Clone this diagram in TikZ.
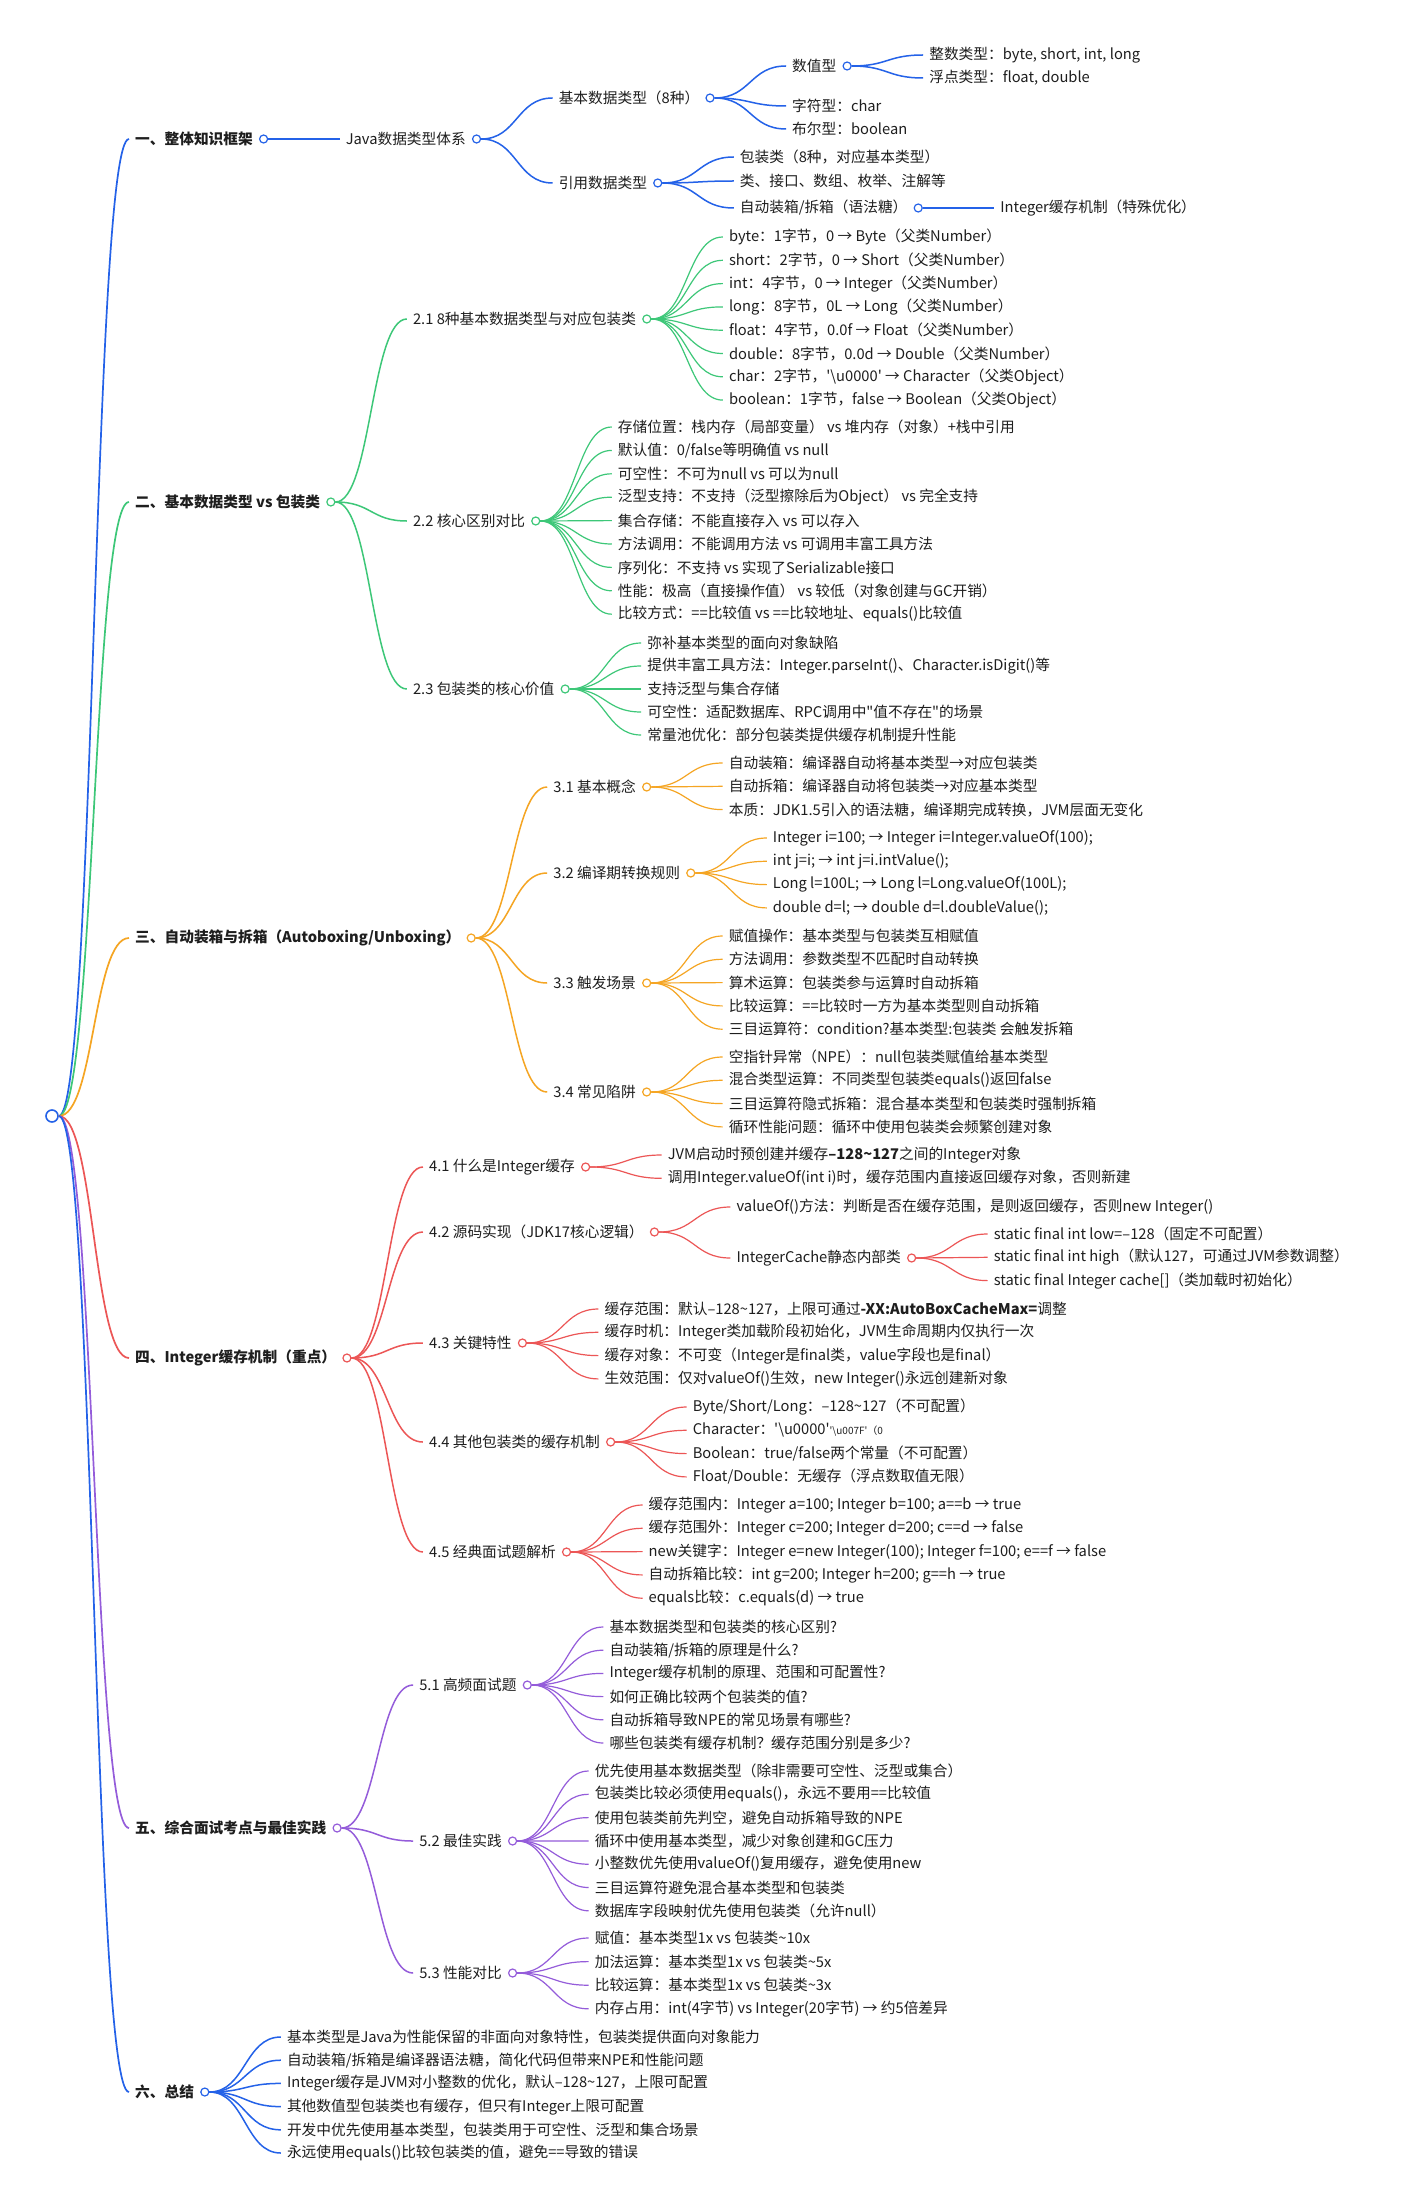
\documentclass[tikz,border=0pt]{standalone}
\usepackage{fontspec}
\setmainfont{Noto Sans CJK SC}
\usetikzlibrary{positioning}
\definecolor{mmblue}{RGB}{36,98,232}
\definecolor{mmgreen}{RGB}{61,199,120}
\definecolor{mmorange}{RGB}{245,165,35}
\definecolor{mmred}{RGB}{236,86,86}
\definecolor{mmpurple}{RGB}{148,92,218}
\definecolor{ink}{RGB}{30,30,30}

\begin{document}
\begin{tikzpicture}[x=1pt, y=-1pt,
    hd/.style={anchor=west, inner xsep=6pt, inner ysep=2pt, text=ink, font=\fontsize{14.7}{17}\selectfont\bfseries},
    sub/.style={anchor=west, inner xsep=6pt, inner ysep=2pt, text=ink, font=\fontsize{14.7}{17}\selectfont},
    knob/.style={circle, draw, fill=white, inner sep=0pt, minimum size=8pt, line width=1.2pt, right=0pt of #1},
    br1/.style={line width=1.7pt},
    br2/.style={line width=1.5pt},
    br3/.style={line width=1.2pt}]

    \fill[white] (0,0) rectangle (1400,2207);
    \useasboundingbox (0,0) rectangle (1400,2207);

    % Root
    \node[circle, draw=mmblue, fill=white, line width=1.6pt, minimum size=12pt, inner sep=0pt] (root) at (52,1116) {};

    % Main branches
    \node[hd] (h1) at (129,139) {一、整体知识框架};
    \node[knob=h1, draw=mmblue] (h1k) {};
    \node[hd] (h2) at (129,502) {二、基本数据类型 vs 包装类};
    \node[knob=h2, draw=mmgreen] (h2k) {};
    \node[hd] (h3) at (129,938) {三、自动装箱与拆箱（Autoboxing/Unboxing）};
    \node[knob=h3, draw=mmorange] (h3k) {};
    \node[hd] (h4) at (129,1358) {四、Integer缓存机制（重点）};
    \node[knob=h4, draw=mmred] (h4k) {};
    \node[hd] (h5) at (129,1828) {五、综合面试考点与最佳实践};
    \node[knob=h5, draw=mmpurple] (h5k) {};
    \node[hd] (h6) at (129,2092) {六、总结};
    \node[knob=h6, draw=mmblue] (h6k) {};

    \foreach \b/\c in {h1/mmblue, h2/mmgreen, h3/mmorange, h4/mmred, h5/mmpurple, h6/mmblue}
        \draw[br1, \c] (root.east) .. controls +(36,0) and +(-36,0) .. (\b.west);

    % 1. Overview
    \coordinate (x1) at ([xshift=76pt]h1k.center);
    \node[sub] (java) at (x1 |- 0,139) {Java数据类型体系};
    \node[knob=java, draw=mmblue] (javak) {};
    \coordinate (x11) at ([xshift=76pt]javak.center);
    \node[sub] (basic) at (x11 |- 0,98) {基本数据类型（8种）};
    \node[knob=basic, draw=mmblue] (basick) {};
    \node[sub] (ref) at (x11 |- 0,183) {引用数据类型};
    \node[knob=ref, draw=mmblue] (refk) {};
    \coordinate (x111) at ([xshift=76pt]basick.center);
    \node[sub] (num) at (x111 |- 0,66) {数值型};
    \node[knob=num, draw=mmblue] (numk) {};
    \node[sub] (chr) at (x111 |- 0,106) {字符型：char};
    \node[sub] (bool) at (x111 |- 0,129) {布尔型：boolean};
    \coordinate (x1111) at ([xshift=76pt]numk.center);
    \node[sub] (intg) at (x1111 |- 0,55) {整数类型：byte, short, int, long};
    \node[sub] (flt) at (x1111 |- 0,78) {浮点类型：float, double};
    \coordinate (x112) at ([xshift=76pt]refk.center);
    \node[sub] (wrap) at (x112 |- 0,157) {包装类（8种，对应基本类型）};
    \node[sub] (cls) at (x112 |- 0,181) {类、接口、数组、枚举、注解等};
    \node[sub] (box) at (x112 |- 0,208) {自动装箱/拆箱（语法糖）};
    \node[knob=box, draw=mmblue] (boxk) {};
    \coordinate (x1121) at ([xshift=76pt]boxk.center);
    \node[sub] (icache) at (x1121 |- 0,208) {Integer缓存机制（特殊优化）};

    \foreach \a/\b in {h1k/java, javak/basic, javak/ref, basick/num, basick/chr, basick/bool,
                       numk/intg, numk/flt, refk/wrap, refk/cls, refk/box, boxk/icache}
        \draw[br2, mmblue] (\a.east) .. controls +(36,0) and +(-36,0) .. (\b.west);

    % 2. Primitive vs wrapper
    \coordinate (x2) at ([xshift=76pt]h2k.center);
    \node[sub] (s21) at (x2 |- 0,319) {2.1 8种基本数据类型与对应包装类};
    \node[knob=s21, draw=mmgreen] (s21k) {};
    \node[sub] (s22) at (x2 |- 0,521) {2.2 核心区别对比};
    \node[knob=s22, draw=mmgreen] (s22k) {};
    \node[sub] (s23) at (x2 |- 0,689) {2.3 包装类的核心价值};
    \node[knob=s23, draw=mmgreen] (s23k) {};
    \foreach \b in {s21,s22,s23}
        \draw[br2, mmgreen] (h2k.east) .. controls +(36,0) and +(-36,0) .. (\b.west);

    \coordinate (x21) at ([xshift=76pt]s21k.center);
    \foreach \txt [count=\i] in {{byte：1字节，0 → Byte（父类Number）},
        {short：2字节，0 → Short（父类Number）},
        {int：4字节，0 → Integer（父类Number）},
        {long：8字节，0L → Long（父类Number）},
        {float：4字节，0.0f → Float（父类Number）},
        {double：8字节，0.0d → Double（父类Number）},
        {char：2字节，\textquotesingle\textbackslash u0000\textquotesingle{} → Character（父类Object）},
        {boolean：1字节，false → Boolean（父类Object）}} {
        \pgfmathsetmacro\yy{237+23.3*(\i-1)}
        \node[sub] (s21-\i) at (x21 |- 0,\yy) {\txt};
        \draw[br3, mmgreen] (s21k.east) .. controls +(36,0) and +(-36,0) .. (s21-\i.west);
    }

    \coordinate (x22) at ([xshift=76pt]s22k.center);
    \foreach \txt [count=\i] in {{存储位置：栈内存（局部变量） vs 堆内存（对象）+栈中引用},
        {默认值：0/false等明确值 vs null},
        {可空性：不可为null vs 可以为null},
        {泛型支持：不支持（泛型擦除后为Object） vs 完全支持},
        {集合存储：不能直接存入 vs 可以存入},
        {方法调用：不能调用方法 vs 可调用丰富工具方法},
        {序列化：不支持 vs 实现了Serializable接口},
        {性能：极高（直接操作值） vs 较低（对象创建与GC开销）},
        {比较方式：==比较值 vs ==比较地址、equals()比较值}} {
        \pgfmathsetmacro\yy{427+23.4*(\i-1)}
        \node[sub] (s22-\i) at (x22 |- 0,\yy) {\txt};
        \draw[br3, mmgreen] (s22k.east) .. controls +(36,0) and +(-36,0) .. (s22-\i.west);
    }

    \coordinate (x23) at ([xshift=76pt]s23k.center);
    \foreach \txt [count=\i] in {{弥补基本类型的面向对象缺陷},
        {提供丰富工具方法：Integer.parseInt()、Character.isDigit()等},
        {支持泛型与集合存储},
        {可空性：适配数据库、RPC调用中\textquotedbl 值不存在\textquotedbl 的场景},
        {常量池优化：部分包装类提供缓存机制提升性能}} {
        \pgfmathsetmacro\yy{643+23*(\i-1)}
        \node[sub] (s23-\i) at (x23 |- 0,\yy) {\txt};
        \draw[br3, mmgreen] (s23k.east) .. controls +(36,0) and +(-36,0) .. (s23-\i.west);
    }

    % 3. Autoboxing / unboxing
    \coordinate (x3) at ([xshift=76pt]h3k.center);
    \node[sub] (s31) at (x3 |- 0,787) {3.1 基本概念};
    \node[knob=s31, draw=mmorange] (s31k) {};
    \node[sub] (s32) at (x3 |- 0,873) {3.2 编译期转换规则};
    \node[knob=s32, draw=mmorange] (s32k) {};
    \node[sub] (s33) at (x3 |- 0,983) {3.3 触发场景};
    \node[knob=s33, draw=mmorange] (s33k) {};
    \node[sub] (s34) at (x3 |- 0,1092) {3.4 常见陷阱};
    \node[knob=s34, draw=mmorange] (s34k) {};
    \foreach \b in {s31,s32,s33,s34}
        \draw[br2, mmorange] (h3k.east) .. controls +(36,0) and +(-36,0) .. (\b.west);

    \coordinate (x31) at ([xshift=76pt]s31k.center);
    \foreach \txt [count=\i] in {{自动装箱：编译器自动将基本类型→对应包装类},
        {自动拆箱：编译器自动将包装类→对应基本类型},
        {本质：JDK1.5引入的语法糖，编译期完成转换，JVM层面无变化}} {
        \pgfmathsetmacro\yy{763+23.3*(\i-1)}
        \node[sub] (s31-\i) at (x31 |- 0,\yy) {\txt};
        \draw[br3, mmorange] (s31k.east) .. controls +(36,0) and +(-36,0) .. (s31-\i.west);
    }

    \coordinate (x32) at ([xshift=76pt]s32k.center);
    \foreach \txt [count=\i] in {{Integer i=100; → Integer i=Integer.valueOf(100);},
        {int j=i; → int j=i.intValue();},
        {Long l=100L; → Long l=Long.valueOf(100L);},
        {double d=l; → double d=l.doubleValue();}} {
        \pgfmathsetmacro\yy{838+23.3*(\i-1)}
        \node[sub] (s32-\i) at (x32 |- 0,\yy) {\txt};
        \draw[br3, mmorange] (s32k.east) .. controls +(36,0) and +(-36,0) .. (s32-\i.west);
    }

    \coordinate (x33) at ([xshift=76pt]s33k.center);
    \foreach \txt [count=\i] in {{赋值操作：基本类型与包装类互相赋值},
        {方法调用：参数类型不匹配时自动转换},
        {算术运算：包装类参与运算时自动拆箱},
        {比较运算：==比较时一方为基本类型则自动拆箱},
        {三目运算符：condition?基本类型:包装类 会触发拆箱}} {
        \pgfmathsetmacro\yy{936+23.3*(\i-1)}
        \node[sub] (s33-\i) at (x33 |- 0,\yy) {\txt};
        \draw[br3, mmorange] (s33k.east) .. controls +(36,0) and +(-36,0) .. (s33-\i.west);
    }

    \coordinate (x34) at ([xshift=76pt]s34k.center);
    \foreach \txt [count=\i] in {{空指针异常（NPE）：null包装类赋值给基本类型},
        {混合类型运算：不同类型包装类equals()返回false},
        {三目运算符隐式拆箱：混合基本类型和包装类时强制拆箱},
        {循环性能问题：循环中使用包装类会频繁创建对象}} {
        \pgfmathsetmacro\yy{1057+23.3*(\i-1)}
        \node[sub] (s34-\i) at (x34 |- 0,\yy) {\txt};
        \draw[br3, mmorange] (s34k.east) .. controls +(36,0) and +(-36,0) .. (s34-\i.west);
    }

    % 4. Integer cache
    \coordinate (x4) at ([xshift=76pt]h4k.center);
    \node[sub] (s41) at (x4 |- 0,1167) {4.1 什么是Integer缓存};
    \node[knob=s41, draw=mmred] (s41k) {};
    \node[sub] (s42) at (x4 |- 0,1232) {4.2 源码实现（JDK17核心逻辑）};
    \node[knob=s42, draw=mmred] (s42k) {};
    \node[sub] (s43) at (x4 |- 0,1343) {4.3 关键特性};
    \node[knob=s43, draw=mmred] (s43k) {};
    \node[sub] (s44) at (x4 |- 0,1442) {4.4 其他包装类的缓存机制};
    \node[knob=s44, draw=mmred] (s44k) {};
    \node[sub] (s45) at (x4 |- 0,1552) {4.5 经典面试题解析};
    \node[knob=s45, draw=mmred] (s45k) {};
    \foreach \b in {s41,s42,s43,s44,s45}
        \draw[br2, mmred] (h4k.east) .. controls +(36,0) and +(-36,0) .. (\b.west);

    \coordinate (x41) at ([xshift=76pt]s41k.center);
    \foreach \txt [count=\i] in {{JVM启动时预创建并缓存\textbf{–128\textasciitilde127}之间的Integer对象},
        {调用Integer.valueOf(int i)时，缓存范围内直接返回缓存对象，否则新建}} {
        \pgfmathsetmacro\yy{1155+23.3*(\i-1)}
        \node[sub] (s41-\i) at (x41 |- 0,\yy) {\txt};
        \draw[br3, mmred] (s41k.east) .. controls +(36,0) and +(-36,0) .. (s41-\i.west);
    }

    \coordinate (x42) at ([xshift=76pt]s42k.center);
    \node[sub] (vof) at (x42 |- 0,1207) {valueOf()方法：判断是否在缓存范围，是则返回缓存，否则new Integer()};
    \node[sub] (icls) at (x42 |- 0,1258) {IntegerCache静态内部类};
    \node[knob=icls, draw=mmred] (iclsk) {};
    \foreach \b in {vof,icls}
        \draw[br3, mmred] (s42k.east) .. controls +(36,0) and +(-36,0) .. (\b.west);
    \coordinate (x421) at ([xshift=76pt]iclsk.center);
    \foreach \txt [count=\i] in {{static final int low=–128（固定不可配置）},
        {static final int high（默认127，可通过JVM参数调整）},
        {static final Integer cache[]（类加载时初始化）}} {
        \pgfmathsetmacro\yy{1234+23.3*(\i-1)}
        \node[sub] (icls-\i) at (x421 |- 0,\yy) {\txt};
        \draw[br3, mmred] (iclsk.east) .. controls +(36,0) and +(-36,0) .. (icls-\i.west);
    }

    \coordinate (x43) at ([xshift=76pt]s43k.center);
    \foreach \txt [count=\i] in {{缓存范围：默认–128\textasciitilde127，上限可通过\textbf{-XX:AutoBoxCacheMax=}调整},
        {缓存时机：Integer类加载阶段初始化，JVM生命周期内仅执行一次},
        {缓存对象：不可变（Integer是final类，value字段也是final）},
        {生效范围：仅对valueOf()生效，new Integer()永远创建新对象}} {
        \pgfmathsetmacro\yy{1309+23.3*(\i-1)}
        \node[sub] (s43-\i) at (x43 |- 0,\yy) {\txt};
        \draw[br3, mmred] (s43k.east) .. controls +(36,0) and +(-36,0) .. (s43-\i.west);
    }

    \coordinate (x44) at ([xshift=76pt]s44k.center);
    \foreach \txt [count=\i] in {{Byte/Short/Long：–128\textasciitilde127（不可配置）},
        {Character：\textquotesingle\textbackslash u0000\textquotesingle{\fontsize{10}{12}\selectfont\textquotesingle\textbackslash u007F\textquotesingle（0}},
        {Boolean：true/false两个常量（不可配置）},
        {Float/Double：无缓存（浮点数取值无限）}} {
        \pgfmathsetmacro\yy{1407+23.3*(\i-1)}
        \node[sub] (s44-\i) at (x44 |- 0,\yy) {\txt};
        \draw[br3, mmred] (s44k.east) .. controls +(36,0) and +(-36,0) .. (s44-\i.west);
    }

    \coordinate (x45) at ([xshift=76pt]s45k.center);
    \foreach \txt [count=\i] in {{缓存范围内：Integer a=100; Integer b=100; a==b → true},
        {缓存范围外：Integer c=200; Integer d=200; c==d → false},
        {new关键字：Integer e=new Integer(100); Integer f=100; e==f → false},
        {自动拆箱比较：int g=200; Integer h=200; g==h → true},
        {equals比较：c.equals(d) → true}} {
        \pgfmathsetmacro\yy{1505+23.3*(\i-1)}
        \node[sub] (s45-\i) at (x45 |- 0,\yy) {\txt};
        \draw[br3, mmred] (s45k.east) .. controls +(36,0) and +(-36,0) .. (s45-\i.west);
    }

    % 5. Interview points and best practice
    \coordinate (x5) at ([xshift=76pt]h5k.center);
    \node[sub] (s51) at (x5 |- 0,1685) {5.1 高频面试题};
    \node[knob=s51, draw=mmpurple] (s51k) {};
    \node[sub] (s52) at (x5 |- 0,1841) {5.2 最佳实践};
    \node[knob=s52, draw=mmpurple] (s52k) {};
    \node[sub] (s53) at (x5 |- 0,1973) {5.3 性能对比};
    \node[knob=s53, draw=mmpurple] (s53k) {};
    \foreach \b in {s51,s52,s53}
        \draw[br2, mmpurple] (h5k.east) .. controls +(36,0) and +(-36,0) .. (\b.west);

    \coordinate (x51) at ([xshift=76pt]s51k.center);
    \foreach \txt [count=\i] in {{基本数据类型和包装类的核心区别?},
        {自动装箱/拆箱的原理是什么?},
        {Integer缓存机制的原理、范围和可配置性?},
        {如何正确比较两个包装类的值?},
        {自动拆箱导致NPE的常见场景有哪些?},
        {哪些包装类有缓存机制？缓存范围分别是多少?}} {
        \pgfmathsetmacro\yy{1627+23.2*(\i-1)}
        \node[sub] (s51-\i) at (x51 |- 0,\yy) {\txt};
        \draw[br3, mmpurple] (s51k.east) .. controls +(36,0) and +(-36,0) .. (s51-\i.west);
    }

    \coordinate (x52) at ([xshift=76pt]s52k.center);
    \foreach \txt [count=\i] in {{优先使用基本数据类型（除非需要可空性、泛型或集合）},
        {包装类比较必须使用equals()，永远不要用==比较值},
        {使用包装类前先判空，避免自动拆箱导致的NPE},
        {循环中使用基本类型，减少对象创建和GC压力},
        {小整数优先使用valueOf()复用缓存，避免使用new},
        {三目运算符避免混合基本类型和包装类},
        {数据库字段映射优先使用包装类（允许null）}} {
        \pgfmathsetmacro\yy{1771+23.3*(\i-1)}
        \node[sub] (s52-\i) at (x52 |- 0,\yy) {\txt};
        \draw[br3, mmpurple] (s52k.east) .. controls +(36,0) and +(-36,0) .. (s52-\i.west);
    }

    \coordinate (x53) at ([xshift=76pt]s53k.center);
    \foreach \txt [count=\i] in {{赋值：基本类型1x vs 包装类\textasciitilde10x},
        {加法运算：基本类型1x vs 包装类\textasciitilde5x},
        {比较运算：基本类型1x vs 包装类\textasciitilde3x},
        {内存占用：int(4字节) vs Integer(20字节) → 约5倍差异}} {
        \pgfmathsetmacro\yy{1938+23.6*(\i-1)}
        \node[sub] (s53-\i) at (x53 |- 0,\yy) {\txt};
        \draw[br3, mmpurple] (s53k.east) .. controls +(36,0) and +(-36,0) .. (s53-\i.west);
    }

    % 6. Summary
    \coordinate (x6) at ([xshift=76pt]h6k.center);
    \foreach \txt [count=\i] in {{基本类型是Java为性能保留的非面向对象特性，包装类提供面向对象能力},
        {自动装箱/拆箱是编译器语法糖，简化代码但带来NPE和性能问题},
        {Integer缓存是JVM对小整数的优化，默认–128\textasciitilde127，上限可配置},
        {其他数值型包装类也有缓存，但只有Integer上限可配置},
        {开发中优先使用基本类型，包装类用于可空性、泛型和集合场景},
        {永远使用equals()比较包装类的值，避免==导致的错误}} {
        \pgfmathsetmacro\yy{2037+23.2*(\i-1)}
        \node[sub] (s6-\i) at (x6 |- 0,\yy) {\txt};
        \draw[br2, mmblue] (h6k.east) .. controls +(36,0) and +(-36,0) .. (s6-\i.west);
    }

\end{tikzpicture}
\end{document}
